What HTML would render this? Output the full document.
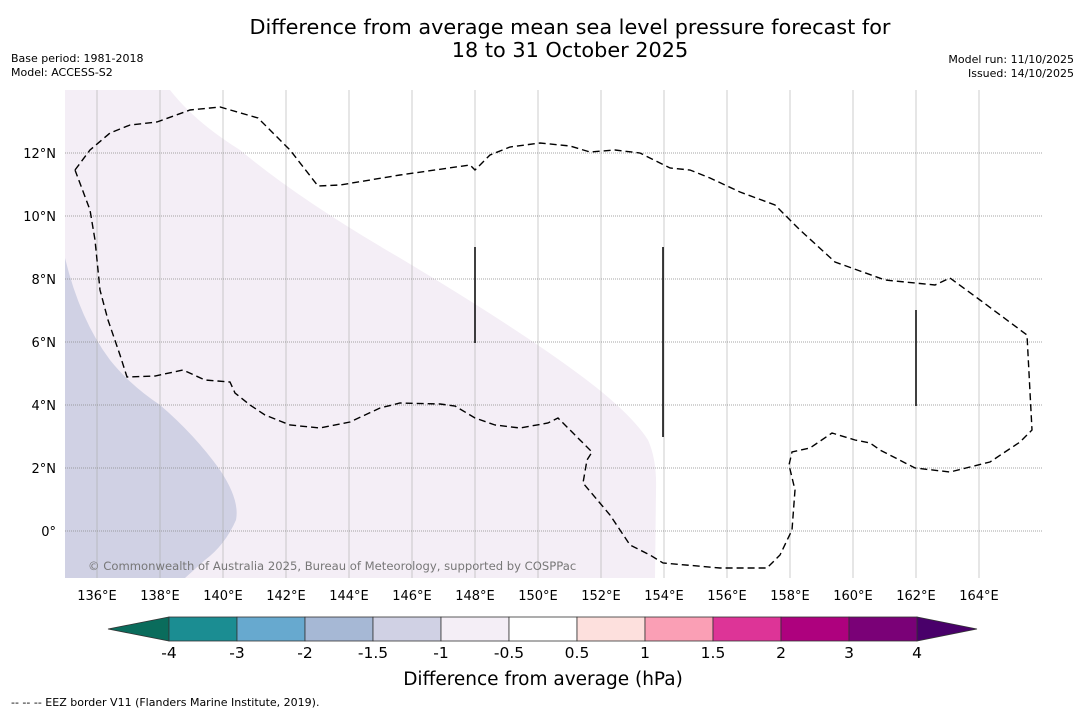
<!DOCTYPE html>
<html><head><meta charset="utf-8"><style>
body{margin:0;background:#fff;font-family:"DejaVu Sans","Liberation Sans",sans-serif;}
svg text{font-family:"DejaVu Sans","Liberation Sans",sans-serif;}
</style></head><body>
<svg id="c" width="1085" height="713" xmlns="http://www.w3.org/2000/svg">
<rect width="1085" height="713" fill="#fff"/>
<text x="570" y="34" font-size="20.8" text-anchor="middle">Difference from average mean sea level pressure forecast for</text>
<text x="570" y="57" font-size="20.8" text-anchor="middle">18 to 31 October 2025</text>
<text x="11" y="62" font-size="11">Base period: 1981-2018</text>
<text x="11" y="76" font-size="11">Model: ACCESS-S2</text>
<text x="1074" y="63" font-size="11" text-anchor="end">Model run: 11/10/2025</text>
<text x="1074" y="77" font-size="11" text-anchor="end">Issued: 14/10/2025</text>
<g id="map"></g>
<g id="cbar"></g>
<text x="543" y="685" font-size="18.5" text-anchor="middle">Difference from average (hPa)</text>
<text x="11" y="706" font-size="11">--  --  -- EEZ border V11 (Flanders Marine Institute, 2019).</text>
</svg>
<script>
const lonTicks=[136,138,140,142,144,146,148,150,152,154,156,158,160,162,164];
const latTicks=[0,2,4,6,8,10,12];
const cbLabels=["-4","-3","-2","-1.5","-1","-0.5","0.5","1","1.5","2","3","4"];
const cbColors=["#1b8d92","#67a9cf","#a6b8d5","#d0d1e4","#f4eef6","#ffffff","#fde0dd","#fa9fb5","#dd3497","#ae017e","#7a0177"];
const NS="http://www.w3.org/2000/svg";
const X=lon=>97+(lon-136)*31.5, Y=lat=>531-lat*31.5;
const L=65,R=1042,T=90,B=578;
function mk(t,a,p){const e=document.createElementNS(NS,t);for(const k in a)e.setAttribute(k,a[k]);p.appendChild(e);return e;}
const map=document.getElementById('map');
const cp=mk('clipPath',{id:'clip'},map);mk('rect',{x:L,y:T,width:R-L,height:B-T},cp);
const g=mk('g',{'clip-path':'url(#clip)'},map);
let p=mk('path',{d:"M65,90 L170,90 Q195,122 240,150 Q300,200 400,258 Q520,330 580,375 Q630,412 648,440 Q657,460 656,490 L655,578 L65,578 Z",fill:"#f4eef6"},g);


p=mk('path',{d:"M65,258 Q80,320 110,360 Q130,385 160,405 Q195,435 220,470 Q240,500 236,520 Q225,545 205,560 L185,578 L65,578 Z",fill:"#d0d1e4"},g);


lonTicks.forEach(v=>{const x=X(v);
 const l=mk('line',{x1:x,x2:x,y1:T,y2:B,stroke:"#aaa",'stroke-width':0.6},g);
 
 
 const t=mk('text',{x:x,y:600,'font-size':13,'text-anchor':'middle'},map);t.textContent=v+"°E";
 
 });
latTicks.forEach(v=>{const y=Y(v);
 const l=mk('line',{x1:L,x2:R,y1:y,y2:y,stroke:"#888",'stroke-width':0.8,'stroke-dasharray':'1,1'},g);
 
 
 const t=mk('text',{x:56,y:y+5,'font-size':13,'text-anchor':'end'},map);t.textContent=v===0?"0°":v+"°N";
 
 });
p=mk('polyline',{points:"75,170 90,150 110,133 130,125 157,122 190,110 220,107 258,118 290,150 318,186 340,185 400,175 470,165 475,170 490,155 510,147 540,143 570,146 590,152 615,150 640,153 670,168 690,170 710,178 740,192 775,205 800,230 835,262 885,280 935,285 950,278 980,300 1027,335 1032,430 1020,442 990,462 950,472 915,468 880,450 870,443 855,440 832,433 810,448 792,452 789,465 795,490 792,530 780,555 767,568 720,568 663,563 650,555 630,545 610,515 583,483 587,460 592,452 575,435 558,418 548,423 520,428 495,425 475,418 455,406 440,404 400,403 380,408 350,422 320,428 290,425 265,415 250,405 235,393 230,382 205,380 183,370 155,376 127,377 120,355 108,320 100,290 95,240 90,210 75,170",fill:"none",stroke:"#000",'stroke-width':1.4,'stroke-dasharray':'7,4'},g);


[[475,247,343],[663,247,437],[916,310,406]].forEach(a=>{const l=mk('line',{x1:a[0],x2:a[0],y1:a[1],y2:a[2],stroke:"#000",'stroke-width':1.5},g);
 
 });
const cr=mk('text',{x:88,y:570,'font-size':11.6,fill:"#777"},map);cr.textContent="© Commonwealth of Australia 2025, Bureau of Meteorology, supported by COSPPac";


const cb=document.getElementById('cbar');const x0=169,x1=917,cy0=617,cy1=641,w=(x1-x0)/cbColors.length;
let tr=mk('polygon',{points:`${x0},${cy0} ${x0},${cy1} 108,629`,fill:"#0a6c5c",stroke:"#333",'stroke-width':0.8},cb);


tr=mk('polygon',{points:`${x1},${cy0} ${x1},${cy1} 977,629`,fill:"#49006a",stroke:"#333",'stroke-width':0.8},cb);


cbColors.forEach((c,i)=>{const r=mk('rect',{x:x0+i*w,y:cy0,width:w,height:cy1-cy0,fill:c,stroke:"#333",'stroke-width':0.8},cb);
 
 });
cbLabels.forEach((s,i)=>{const t=mk('text',{x:x0+i*w,y:658,'font-size':15.5,'text-anchor':'middle'},cb);t.textContent=s;
 
 });
</script>
</body></html>
